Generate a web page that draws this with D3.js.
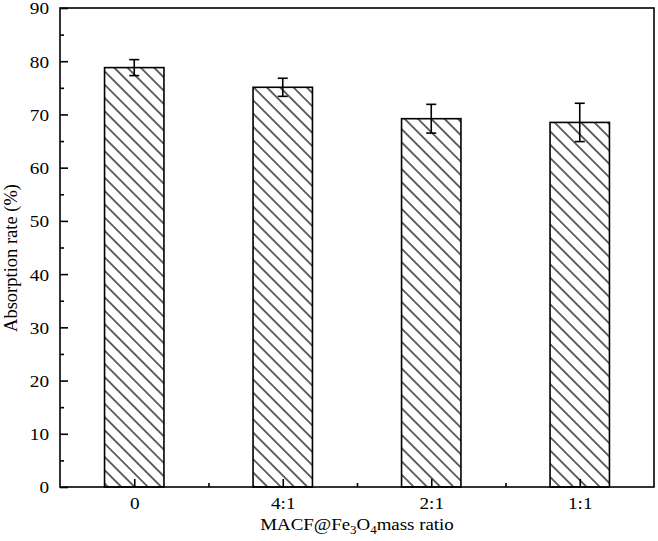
<!DOCTYPE html>
<html>
<head>
<meta charset="utf-8">
<script src="https://cdn.jsdelivr.net/npm/d3@7"></script>
<style>
  body { margin: 0; background: #fff; }
  text { font-family: "Liberation Serif", "Times New Roman", serif; fill: #000; }
</style>
</head>
<body>
<svg id="chart" width="658" height="541"></svg>
<script>
// data
const categories = ['0', '4:1', '2:1', '1:1'];
const rates = [78.8, 75.1, 69.2, 68.5];
const errors = [1.5, 1.7, 2.7, 3.6];
const yTicks = [0, 10, 20, 30, 40, 50, 60, 70, 80, 90];

const width = 658, height = 541;
const margin = { left: 60, right: 4, top: 8, bottom: 54 };
const serif = '"Liberation Serif", "Times New Roman", serif';

const svg = d3.select('#chart');

const x = d3.scaleLinear()
    .domain([-0.5, categories.length - 0.5])
    .range([margin.left, width - margin.right]);

const y = d3.scaleLinear()
    .domain([0, 90])
    .range([height - margin.bottom, margin.top]);

const barW = x(0.2) - x(-0.2);

// hatch pattern (\\\)
const gap = 9.4;
const pat = svg.append('defs').append('pattern')
    .attr('id', 'hatch')
    .attr('patternUnits', 'userSpaceOnUse')
    .attr('width', gap)
    .attr('height', gap)
    .attr('patternTransform', 'rotate(45)');
pat.append('rect').attr('width', gap).attr('height', gap).attr('fill', '#fff');
pat.append('line')
    .attr('x1', 0).attr('y1', gap / 2).attr('x2', gap).attr('y2', gap / 2)
    .attr('stroke', '#000').attr('stroke-width', 1.2);

// bars
svg.append('g')
  .selectAll('rect')
  .data(rates)
  .join('rect')
    .attr('x', (d, i) => x(i) - barW / 2)
    .attr('y', d => y(d))
    .attr('width', barW)
    .attr('height', d => y(0) - y(d))
    .attr('fill', 'url(#hatch)')
    .attr('stroke', '#000')
    .attr('stroke-width', 1.6);

// error bars
const eb = svg.append('g').attr('stroke', '#000').attr('stroke-width', 1.6);
rates.forEach((d, i) => {
  const cx = x(i);
  eb.append('line').attr('x1', cx).attr('x2', cx)
    .attr('y1', y(d + errors[i])).attr('y2', y(d - errors[i]));
  [d + errors[i], d - errors[i]].forEach(v => {
    eb.append('line').attr('x1', cx - 5).attr('x2', cx + 5)
      .attr('y1', y(v)).attr('y2', y(v));
  });
});

// frame
svg.append('rect')
    .attr('x', margin.left).attr('y', margin.top)
    .attr('width', width - margin.right - margin.left)
    .attr('height', height - margin.bottom - margin.top)
    .attr('fill', 'none').attr('stroke', '#000').attr('stroke-width', 1.6);

// y axis
const yAxis = svg.append('g')
    .attr('transform', `translate(${margin.left},0)`)
    .call(d3.axisLeft(y).tickValues(yTicks).tickSize(-8).tickPadding(11));
yAxis.select('.domain').remove();
yAxis.selectAll('line').attr('stroke-width', 1.6);
yAxis.selectAll('text').attr('font-size', 17.5).style('font-family', serif)
    .attr('dy', '0.34em')
    .attr('transform', 'translate(-11,0) scale(1.1,1) translate(11,0)');

const yMinor = svg.append('g')
    .attr('transform', `translate(${margin.left},0)`)
    .call(d3.axisLeft(y).tickValues(yTicks.slice(0, -1).map(v => v + 5)).tickSize(-4).tickFormat(''));
yMinor.select('.domain').remove();
yMinor.selectAll('line').attr('stroke-width', 1.6);

// x axis
const xAxis = svg.append('g')
    .attr('transform', `translate(0,${y(0)})`)
    .call(d3.axisBottom(x).tickValues(d3.range(categories.length))
      .tickFormat(i => categories[i]).tickSize(-8).tickPadding(10));
xAxis.select('.domain').remove();
xAxis.selectAll('line').attr('stroke-width', 1.6);
xAxis.selectAll('text').attr('font-size', 17.5).style('font-family', serif)
    .attr('transform', 'scale(1.1,1)');

const xMinor = svg.append('g')
    .attr('transform', `translate(0,${y(0)})`)
    .call(d3.axisBottom(x).tickValues(d3.range(categories.length - 1).map(i => i + 0.5))
      .tickSize(-4).tickFormat(''));
xMinor.select('.domain').remove();
xMinor.selectAll('line').attr('stroke-width', 1.6);

// axis titles
const cxTitle = (margin.left + width - margin.right) / 2;
const xt = svg.append('text')
    .attr('transform', `translate(${cxTitle},530) scale(1.08,1)`)
    .attr('text-anchor', 'middle')
    .attr('font-size', 17.5);
xt.append('tspan').text('MACF@Fe');
xt.append('tspan').attr('dy', 4).attr('font-size', 12).text('3');
xt.append('tspan').attr('dy', -4).text('O');
xt.append('tspan').attr('dy', 4).attr('font-size', 12).text('4');
xt.append('tspan').attr('dy', -4).text('mass ratio');

svg.append('text')
    .attr('transform', `translate(17,258) rotate(-90)`)
    .attr('text-anchor', 'middle')
    .attr('font-size', 18.5)
    .text('Absorption rate (%)');
</script>
</body>
</html>
